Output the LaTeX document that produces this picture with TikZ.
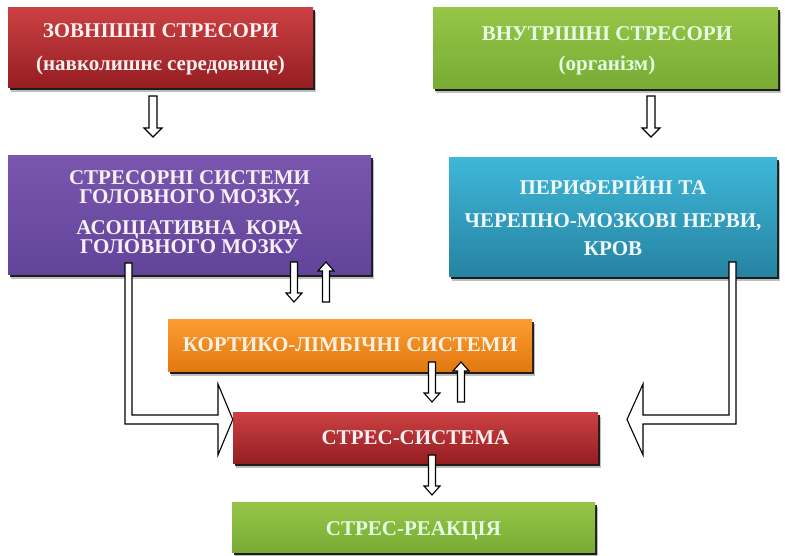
\documentclass[tikz,border=0pt]{standalone}
\usepackage{fontspec}
\setmainfont{Liberation Serif}
\usetikzlibrary{shadows}

\definecolor{redtop}{HTML}{CC4143}
\definecolor{redbot}{HTML}{951E22}
\definecolor{greentop}{HTML}{96C648}
\definecolor{greenbot}{HTML}{79AB35}
\definecolor{purpletop}{HTML}{7A56AE}
\definecolor{purplebot}{HTML}{62449A}
\definecolor{tealtop}{HTML}{3FB7D8}
\definecolor{tealbot}{HTML}{2683A2}
\definecolor{orangetop}{HTML}{FB9D32}
\definecolor{orangebot}{HTML}{E27810}

\tikzset{
  boxfont/.style={font=\bfseries\fontsize{21}{19}\selectfont},
  box/.style={rectangle, inner sep=0pt, align=center, boxfont,
    drop shadow={shadow xshift=2.5pt, shadow yshift=-4.5pt, fill=black, opacity=0.25},
    drop shadow={shadow xshift=1.5pt, shadow yshift=-3pt, fill=black, opacity=0.85}},
  label/.style={boxfont, align=center, inner sep=0pt},
  redbox/.style={box, top color=redtop, bottom color=redbot, text=red!6!white},
  greenbox/.style={box, top color=greentop, bottom color=greenbot, text=green!10!white},
  purplebox/.style={box, top color=purpletop, bottom color=purplebot, text=violet!6!white},
  tealbox/.style={box, top color=tealtop, bottom color=tealbot, text=cyan!6!white},
  orangebox/.style={box, top color=orangetop, bottom color=orangebot, text=orange!10!white},
  blockline/.style={draw=black, line width=1.1pt, fill=white, line join=miter},
  % vertical block arrow: shaft half-width / head half-width / head length / length
  pics/downarr/.style args={#1/#2/#3/#4}{code={
    \path[blockline] (-#1,0) -- (#1,0) -- (#1,#4-#3) -- (#2,#4-#3) -- (0,#4)
      -- (-#2,#4-#3) -- (-#1,#4-#3) -- cycle;}},
  pics/uparr/.style args={#1/#2/#3/#4}{code={
    \path[blockline] (-#1,#4) -- (#1,#4) -- (#1,#3) -- (#2,#3) -- (0,0)
      -- (-#2,#3) -- (-#1,#3) -- cycle;}}
}

\begin{document}
\begin{tikzpicture}[x=1pt,y=-1pt]
\useasboundingbox (0,0) rectangle (785,555);

% boxes
\node[redbox, minimum width=305pt, minimum height=80pt] (ext) at (160.5,47) {};
\node[label, text=red!6!white] (extlbl) at (160.5,49)
  {ЗОВНІШНІ СТРЕСОРИ\\[14pt](навколишнє середовище)};
\node[greenbox, minimum width=345pt, minimum height=81pt] (int) at (605.5,47.5) {};
\node[label, text=green!10!white] (intlbl) at (607,50.5)
  {ВНУТРІШНІ СТРЕСОРИ\\[11pt](організм)};
\node[purplebox, minimum width=363pt, minimum height=119pt] (brain) at (189.5,214.5) {};
\node[label, text=violet!6!white] (brainlbl) at (189.5,212.5)
  {СТРЕСОРНІ СИСТЕМИ\\ГОЛОВНОГО МОЗКУ,\\[12pt]АСОЦІАТИВНА\ \ КОРА\\ГОЛОВНОГО МОЗКУ};
\node[tealbox, minimum width=328pt, minimum height=119pt] (nerves) at (613,216.5)
  {ПЕРИФЕРІЙНІ ТА\\[14pt]ЧЕРЕПНО-МОЗКОВІ НЕРВИ,\\[9pt]КРОВ};
\node[orangebox, minimum width=364pt, minimum height=52pt] (limbic) at (350,345)
  {КОРТИКО-ЛІМБІЧНІ СИСТЕМИ};
\node[redbox, minimum width=365pt, minimum height=51pt] (stress) at (415.5,437.5)
  {СТРЕС-СИСТЕМА};
\node[greenbox, minimum width=363pt, minimum height=50pt] (reaction) at (413.5,527) {};
\node[label, text=green!10!white] (reactionlbl) at (413.5,531)
  {СТРЕС-РЕАКЦІЯ};

% straight block arrows
\pic at (153,96) {downarr={4/9/9/41}};
\pic at (651,96) {downarr={4/9/9/41}};
\pic at (294,262) {downarr={3.5/8/9/40}};
\pic at (326,262) {uparr={3.5/8/9/40}};
\pic at (432,362) {downarr={3.5/8/9/40}};
\pic at (461,362) {uparr={3.5/8/9/40}};
\pic at (432,455) {downarr={3.5/8/9/40}};

% elbow block arrows into the stress system
\path[blockline] (125,263) -- (132,263) -- (132,415) -- (218,415) -- (218,384)
  -- (stress.west |- 0,419.5) -- (218,455) -- (218,424) -- (125,424) -- cycle;
\path[blockline] (729,262) -- (736,262) -- (736,424) -- (643,424) -- (643,455)
  -- (627,419.5) -- (643,384) -- (643,415) -- (729,415) -- cycle;
\end{tikzpicture}
\end{document}
